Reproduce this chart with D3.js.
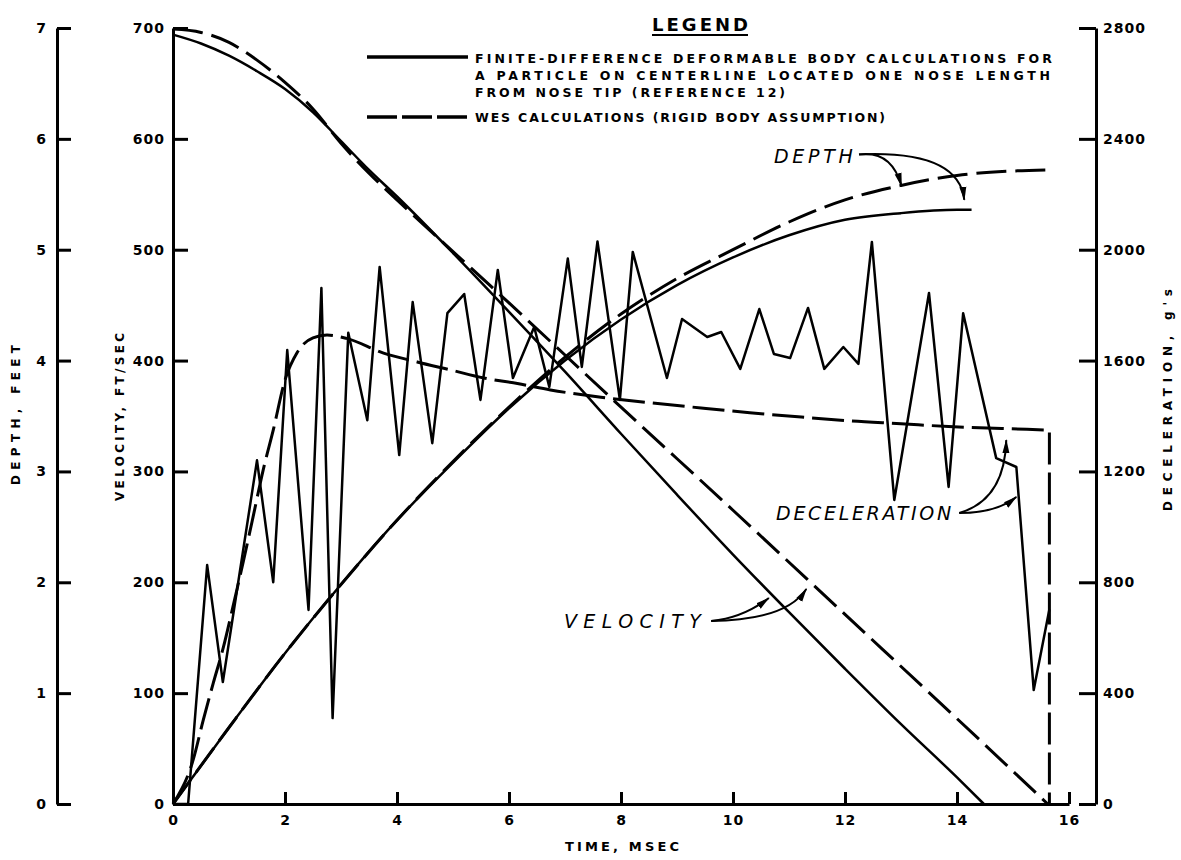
<!DOCTYPE html>
<html>
<head>
<meta charset="utf-8">
<script src="https://cdn.jsdelivr.net/npm/d3@7"></script>
<style>
  body { margin: 0; background: #fff; }
  svg text { font-family: "DejaVu Sans", sans-serif; fill: #000; }
</style>
</head>
<body>
<svg id="chart" width="1181" height="860"></svg>
<script>
// ---- data ----
// time ticks (msec) and axis ticks
var timeTicks = [0, 2, 4, 6, 8, 10, 12, 14, 16];
var depthTicks = [0, 1, 2, 3, 4, 5, 6, 7];
var velTicks = [0, 100, 200, 300, 400, 500, 600, 700];
var decTicks = [0, 400, 800, 1200, 1600, 2000, 2400, 2800];

// velocity, ft/sec
var velT_fd = [0, 0.5, 1, 1.5, 2, 2.5, 3, 3.5, 4, 5, 6, 7, 8, 9, 10, 11, 12, 13, 14, 14.48];
var velV_fd = [694, 686, 675, 661, 645, 624, 598, 572, 548, 497, 444, 390, 334, 279, 225, 173, 122, 72, 24, 0];
var velT_wes = [0, 0.5, 1, 1.5, 2, 2.5, 3, 3.5, 4, 6, 8, 10, 12, 14, 15.62];
var velV_wes = [699, 696, 687, 671, 651, 627, 596, 569, 545, 452, 358, 265, 171, 77, 0];

// depth, feet
var depT_fd = [0, 1, 2, 3, 4, 5, 6, 7, 8, 9, 10, 11, 12, 13, 14, 14.26];
var depD_fd = [0, 0.69, 1.36, 1.98, 2.56, 3.08, 3.57, 4.0, 4.37, 4.68, 4.93, 5.13, 5.27, 5.33, 5.36, 5.36];
var depT_wes = [0, 1, 2, 3, 4, 5, 6, 7, 8, 9, 10, 11, 12, 13, 14, 15, 15.65];
var depD_wes = [0, 0.69, 1.36, 1.98, 2.56, 3.09, 3.58, 4.03, 4.42, 4.74, 5.0, 5.25, 5.45, 5.58, 5.67, 5.71, 5.72];

// deceleration, g's
var decT_wes = [0, 0.36, 0.54, 0.72, 0.9, 1.07, 1.25, 1.43, 1.61, 1.79, 2.0, 2.22, 2.5, 2.75, 3.1, 3.76, 4.36, 4.96, 5.55, 6.15, 6.74, 7.64, 8.5, 9.43, 10.3, 11.22, 12.11, 13.0, 13.85, 14.8, 15.65];
var decG_wes = [0, 159, 303, 437, 566, 711, 870, 1036, 1205, 1349, 1530, 1630, 1682, 1692, 1680, 1627, 1595, 1566, 1537, 1517, 1494, 1468, 1448, 1429, 1412, 1396, 1382, 1372, 1362, 1355, 1349];
var decDropT = 15.65;
var decT_fd = [0, 0.27, 0.61, 0.89, 1.5, 1.79, 2.04, 2.42, 2.65, 2.85, 3.13, 3.47, 3.69, 4.04, 4.28, 4.63, 4.9, 5.2, 5.49, 5.8, 6.07, 6.45, 6.72, 7.05, 7.3, 7.58, 7.98, 8.21, 8.82, 9.09, 9.54, 9.79, 10.13, 10.47, 10.73, 11.02, 11.34, 11.63, 11.97, 12.24, 12.48, 12.88, 13.5, 13.85, 14.11, 14.7, 15.06, 15.37, 15.65];
var decG_fd = [0, 0, 862, 440, 1240, 800, 1638, 700, 1862, 310, 1700, 1385, 1938, 1259, 1811, 1302, 1771, 1840, 1458, 1927, 1537, 1721, 1505, 1968, 1577, 2030, 1458, 1992, 1537, 1750, 1685, 1703, 1570, 1786, 1624, 1609, 1790, 1570, 1649, 1588, 2028, 1097, 1844, 1144, 1771, 1248, 1216, 411, 703];

var legendLines = [
  "FINITE-DIFFERENCE DEFORMABLE BODY CALCULATIONS FOR",
  "A PARTICLE ON CENTERLINE LOCATED ONE NOSE LENGTH",
  "FROM NOSE TIP (REFERENCE 12)"
];
var legendWes = "WES CALCULATIONS (RIGID BODY ASSUMPTION)";

// ---- scales ----
var svg = d3.select("#chart");
var x = d3.scaleLinear().domain([0, 16]).range([173, 1069]);
var yDep = d3.scaleLinear().domain([0, 7]).range([804, 28]);
var yVel = d3.scaleLinear().domain([0, 700]).range([804, 28]);
var yDec = d3.scaleLinear().domain([0, 2800]).range([804, 28]);

function pairs(ts, vs) { return ts.map(function (t, i) { return [t, vs[i]]; }); }

function styleAxis(g) {
  g.select(".domain").attr("stroke", "#000").attr("stroke-width", 3);
  g.selectAll(".tick line").attr("stroke", "#000").attr("stroke-width", 3);
  g.selectAll(".tick text")
    .attr("font-size", 14).attr("font-weight", "bold")
    .style("letter-spacing", "1px");
}

// depth axis (far left)
var gDep = svg.append("g").attr("transform", "translate(57,0)")
  .call(d3.axisRight(yDep).tickValues(depthTicks).tickSize(14).tickSizeOuter(0).tickFormat(d3.format("d")));
styleAxis(gDep);
gDep.selectAll(".tick text").attr("x", -10).attr("text-anchor", "end");

// velocity axis
var gVel = svg.append("g").attr("transform", "translate(173,0)")
  .call(d3.axisRight(yVel).tickValues(velTicks).tickSize(15).tickSizeOuter(0).tickFormat(d3.format("d")));
styleAxis(gVel);
gVel.selectAll(".tick text").attr("x", -8).attr("text-anchor", "end");

// deceleration axis (right)
var gDec = svg.append("g").attr("transform", "translate(1096,0)")
  .call(d3.axisLeft(yDec).tickValues(decTicks).tickSize(17).tickSizeOuter(0).tickFormat(d3.format("d")));
styleAxis(gDec);
gDec.selectAll(".tick text").attr("x", 7).attr("text-anchor", "start");

// time axis
var gTime = svg.append("g").attr("transform", "translate(0,804)")
  .call(d3.axisTop(x).tickValues(timeTicks).tickSize(12).tickSizeOuter(0).tickFormat(d3.format("d")));
styleAxis(gTime);
gTime.selectAll(".tick text").attr("y", 21).attr("dy", "0");

// axis titles
function vTitle(txt, cx, cy, len) {
  svg.append("text")
    .attr("transform", "translate(" + cx + "," + cy + ") rotate(-90)")
    .attr("text-anchor", "middle").attr("dy", "0.35em")
    .attr("font-size", 12).attr("font-weight", "bold")
    .attr("textLength", len).attr("lengthAdjust", "spacing")
    .text(txt);
}
vTitle("DEPTH, FEET", 16, 415, 140);
vTitle("VELOCITY, FT/SEC", 120, 417, 168);
vTitle("DECELERATION, g's", 1168, 400, 222);
svg.append("text").attr("x", 622).attr("y", 851).attr("text-anchor", "middle")
  .attr("font-size", 13).attr("font-weight", "bold")
  .attr("textLength", 114).attr("lengthAdjust", "spacing")
  .text("TIME, MSEC");

// ---- curves ----
var plot = svg.append("g").attr("fill", "none").attr("stroke", "#000")
  .attr("stroke-linejoin", "round");

function smooth(yS) {
  return d3.line().x(function (d) { return x(d[0]); }).y(function (d) { return yS(d[1]); })
    .curve(d3.curveMonotoneX);
}

// velocity
plot.append("path").attr("d", smooth(yVel)(pairs(velT_fd, velV_fd))).attr("stroke-width", 2.5);
plot.append("path").attr("d", smooth(yVel)(pairs(velT_wes, velV_wes)))
  .attr("stroke-width", 3).attr("stroke-dasharray", "30,9");

// depth
plot.append("path").attr("d", smooth(yDep)(pairs(depT_fd, depD_fd))).attr("stroke-width", 2.5);
plot.append("path").attr("d", smooth(yDep)(pairs(depT_wes, depD_wes)))
  .attr("stroke-width", 3).attr("stroke-dasharray", "30,9");

// deceleration
plot.append("path")
  .attr("d", d3.line().x(function (d) { return x(d[0]); }).y(function (d) { return yDec(d[1]); })(pairs(decT_fd, decG_fd)))
  .attr("stroke-width", 2.5);
plot.append("path")
  .attr("d", smooth(yDec)(pairs(decT_wes, decG_wes)) + "L" + x(decDropT) + "," + yDec(0))
  .attr("stroke-width", 3).attr("stroke-dasharray", "32,8");

// ---- legend ----
svg.append("text").attr("x", 700).attr("y", 31).attr("text-anchor", "middle")
  .attr("font-size", 18).attr("font-weight", "bold")
  .attr("textLength", 96).attr("lengthAdjust", "spacing").text("LEGEND");
svg.append("line").attr("x1", 652).attr("x2", 748).attr("y1", 35).attr("y2", 35)
  .attr("stroke", "#000").attr("stroke-width", 2);

svg.append("line").attr("x1", 367).attr("x2", 468).attr("y1", 57).attr("y2", 57)
  .attr("stroke", "#000").attr("stroke-width", 3.5);
svg.append("line").attr("x1", 367).attr("x2", 468).attr("y1", 117).attr("y2", 117)
  .attr("stroke", "#000").attr("stroke-width", 3.5).attr("stroke-dasharray", "30,5");

var legendLens = [577, 575, 310];
legendLines.forEach(function (s, i) {
  svg.append("text").attr("x", 475).attr("y", 63 + i * 17)
    .attr("font-size", 12.5).attr("font-weight", "bold")
    .attr("textLength", legendLens[i]).attr("lengthAdjust", "spacing").text(s);
});
svg.append("text").attr("x", 475).attr("y", 122)
  .attr("font-size", 12.5).attr("font-weight", "bold")
  .attr("textLength", 410).attr("lengthAdjust", "spacing").text(legendWes);

// ---- annotations (data coordinates) ----
svg.append("defs").append("marker")
  .attr("id", "arr").attr("viewBox", "0 -5 14 10").attr("refX", 13).attr("refY", 0)
  .attr("markerWidth", 14).attr("markerHeight", 10).attr("markerUnits", "userSpaceOnUse")
  .attr("orient", "auto")
  .append("path").attr("d", "M0,-3.5L14,0L0,3.5Z").attr("fill", "#000");

function note(label, start, len, arrows, yS) {
  svg.append("text").attr("x", x(start[0])).attr("y", yS(start[1])).attr("dy", "0.35em")
    .attr("font-size", 19).attr("font-style", "italic")
    .attr("textLength", len).attr("lengthAdjust", "spacing").text(label);
  arrows.forEach(function (a) {
    var p = d3.path();
    p.moveTo(x(a[0][0]), yS(a[0][1]));
    p.quadraticCurveTo(x(a[1][0]), yS(a[1][1]), x(a[2][0]), yS(a[2][1]));
    svg.append("path").attr("d", p.toString()).attr("fill", "none")
      .attr("stroke", "#000").attr("stroke-width", 2).attr("marker-end", "url(#arr)");
  });
}

var depthNote = [10.73, 5.84];
var depthArrows = [[[12.25, 5.86], [12.83, 5.90], [13.01, 5.575]],
                   [[12.25, 5.86], [14.03, 5.90], [14.13, 5.45]]];
var velNote = [6.98, 165];
var velArrows = [[[9.61, 165], [10.18, 167.8], [10.64, 185.8]],
                 [[9.61, 165], [10.95, 166], [11.31, 194]]];
var decNote = [10.77, 1050];
var decArrows = [[[14.04, 1050], [14.85, 1097], [14.88, 1313]],
                 [[14.04, 1050], [14.70, 1050], [15.06, 1108]]];

note("DEPTH", depthNote, 79, depthArrows, yDep);
note("VELOCITY", velNote, 137, velArrows, yVel);
note("DECELERATION", decNote, 175, decArrows, yDec);
</script>
</body>
</html>
